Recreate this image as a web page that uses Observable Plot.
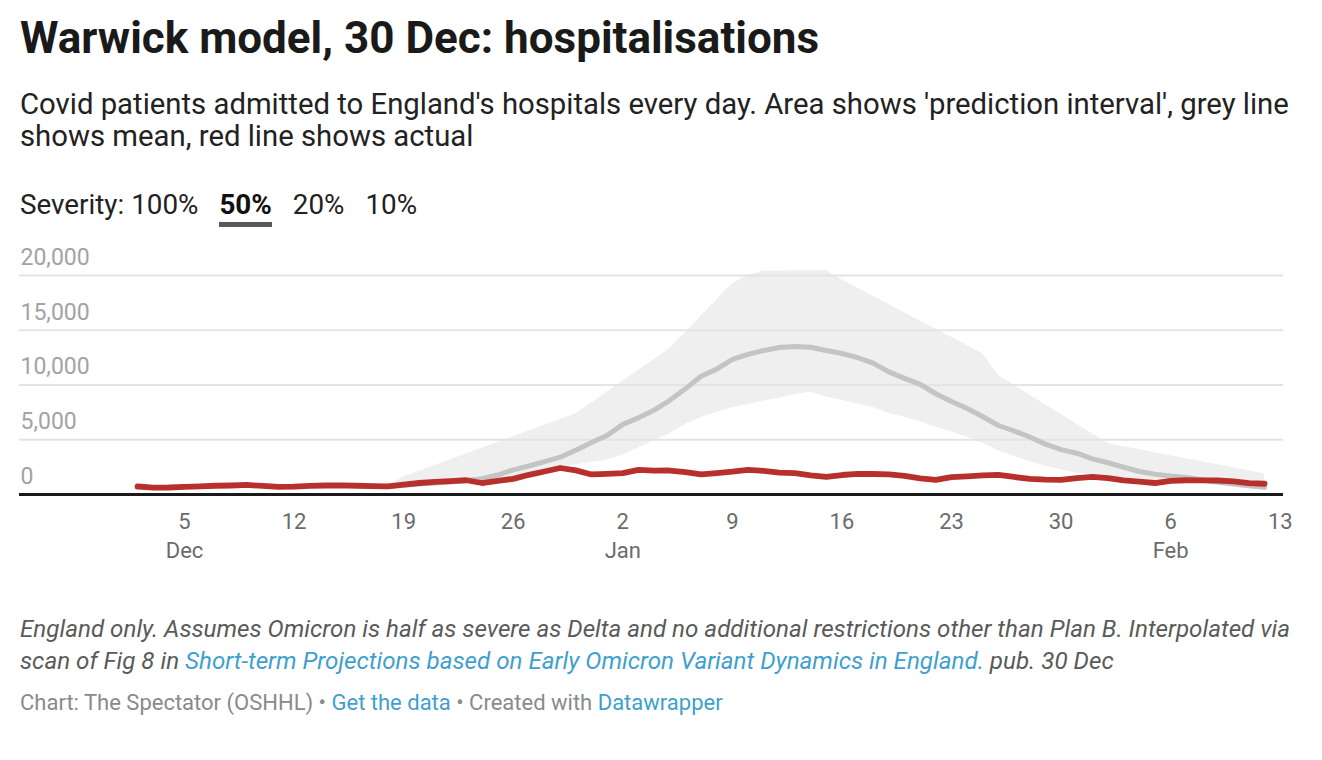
<!DOCTYPE html>
<html><head><meta charset="utf-8">
<script src="https://cdn.jsdelivr.net/npm/d3@7"></script>
<script src="https://cdn.jsdelivr.net/npm/@observablehq/plot@0.6"></script>
<style>
body{margin:0;background:#fff;font-family:Roboto,"Noto Sans",sans-serif;}
#wrap{position:relative;width:1322px;height:760px;overflow:hidden;background:#fff;}
.blk{position:absolute;left:20px;white-space:nowrap;}
.title{top:13px;font-size:44px;font-weight:700;color:#1a1a1a;line-height:50px;}
.sub{top:88px;font-size:29.3px;color:#222;line-height:32px;}
.legend{top:190px;font-size:27.8px;color:#222;line-height:30px;}
.legend span{display:inline-block;margin-right:21px;}
.legend .on{font-weight:700;color:#111;border-bottom:5px solid #595959;padding-bottom:2px;}
.notes{top:613px;font-size:24.2px;font-style:italic;color:#5a5a5a;line-height:32px;}
.credit{top:690px;font-size:22px;color:#8a8a8a;line-height:26px;}
a{color:#3f9fcf;text-decoration:none;}
#chart{position:absolute;left:0;top:240px;}
</style></head>
<body><div id="wrap">
<div class="blk title">Warwick model, 30 Dec: hospitalisations</div>
<div class="blk sub">Covid patients admitted to England's hospitals every day. Area shows 'prediction interval', grey line<br>shows mean, red line shows actual</div>
<div class="blk legend"><span>Severity: 100%</span><span class="on">50%</span><span>20%</span><span>10%</span></div>
<div id="chart"></div>
<div class="blk notes">England only. Assumes Omicron is half as severe as Delta and no additional restrictions other than Plan B. Interpolated via<br>scan of Fig 8 in <a>Short-term Projections based on Early Omicron Variant Dynamics in England.</a> pub. 30 Dec</div>
<div class="blk credit">Chart: The Spectator (OSHHL) • <a>Get the data</a> • Created with <a>Datawrapper</a></div>
</div>
<script>
// Actual admissions, daily from 2 Dec 2021
const actualStart = "2021-12-02";
const actual = [730,620,640,700,740,800,820,870,780,700,720,790,820,840,800,770,740,900,1050,1150,1220,1300,1050,1250,1430,1800,2100,2420,2200,1830,
1880,1950,2250,2180,2190,2050,1830,1950,2080,2250,2150,2000,1950,1750,1600,1780,1890,1870,1830,1700,1480,1340,1580,1660,1750,1800,1600,1420,1350,1340,1500,
1600,1500,1300,1180,1050,1250,1300,1290,1280,1200,1030,980];
// Model (50% severity), daily from 18 Dec 2021
const modelStart = "2021-12-18";
const mean = [760,850,950,1050,1150,1280,1450,1780,2250,2600,3000,3410,4050,4750,
5400,6400,7000,7700,8600,9650,10800,11450,12350,12800,13150,13430,13520,13450,13150,12880,12500,12000,11200,10600,10050,9200,8500,7850,7100,6300,5800,5250,4600,4100,3770,
3250,2900,2490,2100,1850,1680,1560,1350,1120,950,800,650];
const lower = [700,750,800,850,950,1050,1200,1350,1550,1800,2100,2450,2700,2950,
3150,3600,4250,4900,5550,6400,7000,7500,7950,8200,8550,8800,9100,9350,8900,8600,8250,7950,7400,7050,6650,6150,5700,5200,4700,4000,3500,3000,2600,2250,1950,
1800,1650,1500,1420,1320,1200,1100,1000,900,800,720,650];
const upper = [800,1600,2120,2650,3170,3700,4220,4750,5270,5800,6320,6850,7370,8360,
9350,10340,11320,12310,13300,14790,16280,17760,19250,20000,20400,20420,20430,20440,20450,19600,18850,18100,17350,16600,15850,15100,14350,13600,12850,10860,9970,9080,8200,7310,6420,
5540,4650,4370,4100,3820,3550,3270,2990,2720,2440,2170,1890];
const xTicks = ["2021-12-05","2021-12-12","2021-12-19","2021-12-26","2022-01-02","2022-01-09","2022-01-16","2022-01-23","2022-01-30","2022-02-06","2022-02-13"];
const yTicks = [0,5000,10000,15000,20000];
const monthNames = ["Jan","Feb","Mar","Apr","May","Jun","Jul","Aug","Sep","Oct","Nov","Dec"];
const xDomain = ["2021-11-24T11:00:00Z","2022-02-13T05:00:00Z"];

const day = 864e5;
const actualData = actual.map((v,i)=>({date:new Date(new Date(actualStart).getTime()+i*day), v}));
const modelData = mean.map((v,i)=>({date:new Date(new Date(modelStart).getTime()+i*day), mean:v, lo:lower[i], hi:upper[i]}));
const tickDates = xTicks.map(d=>new Date(d));
const firstOfMonth = new Set();
{ let seen = new Set(); tickDates.forEach(d=>{const m=d.getUTCMonth(); if(!seen.has(m)){seen.add(m); firstOfMonth.add(+d);} }); }
const fmtX = d => String(d.getUTCDate()) + (firstOfMonth.has(+d) ? "\n" + monthNames[d.getUTCMonth()] : "");

const chart = Plot.plot({
  width: 1322, height: 330,
  marginLeft: 19, marginRight: 39, marginTop: 35, marginBottom: 76,
  style: {fontFamily: "Roboto, sans-serif", background: "#fff", overflow: "visible"},
  x: {type: "utc", domain: xDomain.map(d=>new Date(d))},
  y: {domain: [0, 20000]},
  marks: [
    Plot.areaY(modelData, {x: "date", y1: "lo", y2: "hi", fill: "#efefef", curve: "linear"}),
    Plot.gridY(yTicks.filter(d=>d>0), {stroke: "#e4e4e4", strokeOpacity: 1, strokeWidth: 2}),
    Plot.axisY(yTicks, {anchor: "left", tickSize: 0, tickPadding: 0, textAnchor: "start", dx: 1, dy: -18,
      fontSize: 23, fill: "#a3a3a3", tickFormat: d3.format(","), label: null}),
    Plot.axisX(tickDates, {anchor: "bottom", tickSize: 0, tickPadding: 14, fontSize: 22, fill: "#6b6b6b",
      lineHeight: 1.32, tickFormat: fmtX, label: null}),
    Plot.lineY(modelData, {x: "date", y: "mean", stroke: "#c4c4c4", strokeWidth: 5, strokeLinejoin: "round", strokeLinecap: "round"}),
    Plot.lineY(actualData, {x: "date", y: "v", stroke: "#b8302b", strokeWidth: 5.8, strokeLinejoin: "round", strokeLinecap: "round"}),
    Plot.ruleY([0], {stroke: "#1a1a1a", strokeWidth: 3})
  ]
});
document.getElementById("chart").appendChild(chart);
</script>
</body></html>
